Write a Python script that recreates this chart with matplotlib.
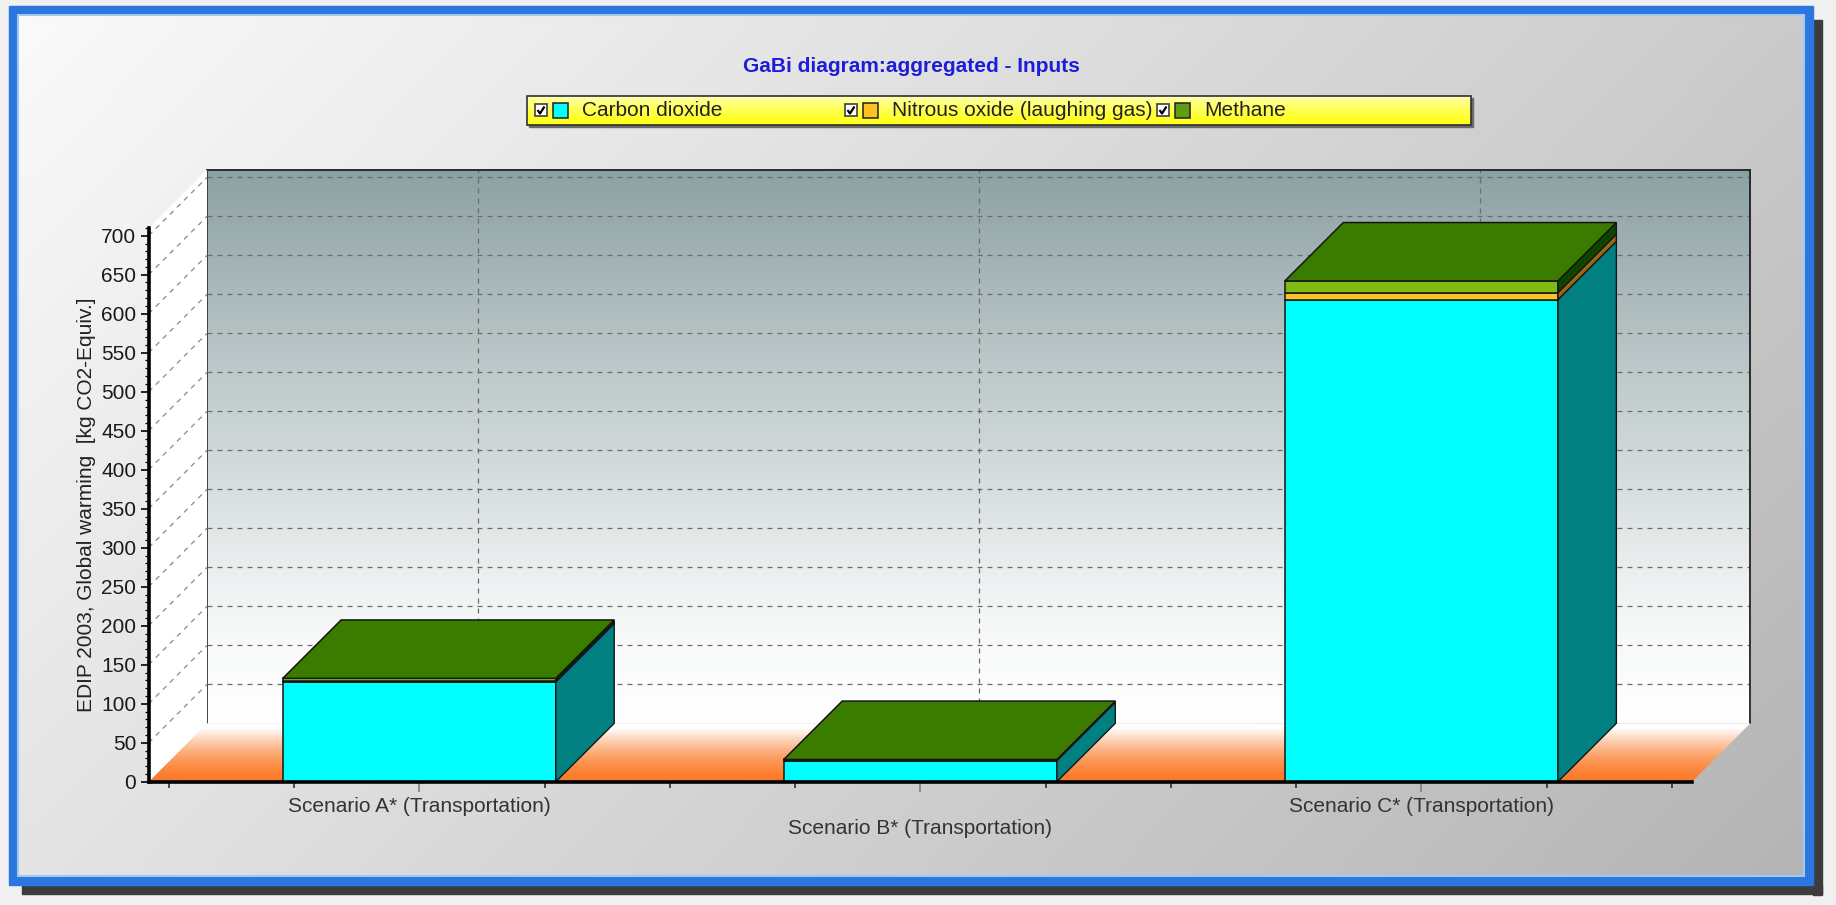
import numpy as np
import matplotlib.pyplot as plt
from matplotlib.patches import Polygon, Rectangle
from matplotlib.colors import to_rgb

plt.rcParams['font.family'] = ['Liberation Sans', 'DejaVu Sans']

# data
categories = ["Scenario A* (Transportation)", "Scenario B* (Transportation)",
              "Scenario C* (Transportation)"]
series = ["Carbon dioxide", "Nitrous oxide (laughing gas)", "Methane"]
co2 = [128, 27, 618]
n2o = [1.5, 0.5, 9]
ch4 = [3, 1, 15]
values = [co2, n2o, ch4]
yticks = list(range(0, 701, 50))

front_cols = ['#00ffff', '#f7c52a', '#80bb14']
side_cols = ['#008080', '#9a6a12', '#0d4500']
top_col = '#3b7b00'
legend_cols = ['#00ffff', '#ffc020', '#5f9e0f']

FW, FH = 1836, 905
fig = plt.figure(figsize=(FW / 100, FH / 100), dpi=100)
fig.patch.set_facecolor('#f0f0f0')


def vgrad(c0, c1, n=256, power=1.0):
    t = np.linspace(0, 1, n) ** power
    a, b = np.array(to_rgb(c0)), np.array(to_rgb(c1))
    return (a[None, :] * (1 - t[:, None]) + b[None, :] * t[:, None])[:, None, :]


# ---- background frame (pixel coords, y down) ----
bg = fig.add_axes([0, 0, 1, 1], zorder=0)
bg.axis('off')
bg.add_patch(Rectangle((1813, 20), 9, 875, color='#3c3c3c', zorder=1))
bg.add_patch(Rectangle((22, 885), 1800, 9, color='#3c3c3c', zorder=1))
bg.add_patch(Rectangle((9, 6), 1804, 879, color='#2b77df', zorder=2))
corners = np.array([[to_rgb('#fafafa'), to_rgb('#cbcbcb')],
                    [to_rgb('#e4e4e4'), to_rgb('#b5b5b5')]])
u = np.linspace(0, 1, 80)
v = np.linspace(0, 1, 40)
U, V = np.meshgrid(u, v)
panel = (corners[0, 0] * ((1 - U) * (1 - V))[..., None] + corners[0, 1] * (U * (1 - V))[..., None]
         + corners[1, 0] * ((1 - U) * V)[..., None] + corners[1, 1] * (U * V)[..., None])
bg.imshow(panel, extent=(18, 1804, 876, 15), aspect='auto', interpolation='bilinear', zorder=3)
bg.add_patch(Rectangle((18, 15), 1786, 861, fill=False, edgecolor='#a3c8f0', lw=1.5, zorder=4))

# title
bg.text(911, 67, "GaBi diagram:aggregated - Inputs", ha='center', va='center',
        fontsize=15, fontweight='bold', color='#1e1ed8', zorder=6)

# legend box
bg.add_patch(Rectangle((529, 98), 944, 29, color='#6a6a6a', zorder=5))
bg.imshow(vgrad('#ffffd0', '#ffff10', power=0.6), extent=(527, 1471, 125, 96),
          aspect='auto', zorder=6)
bg.add_patch(Rectangle((527, 96), 944, 29, fill=False, edgecolor='#303030', lw=1.2, zorder=7))
leg_x = [541, 851, 1163]
for lx, name, col in zip(leg_x, series, legend_cols):
    bg.add_patch(Rectangle((lx - 6, 104.5), 12, 12, facecolor='white',
                           edgecolor='#404040', lw=1.2, zorder=8))
    bg.plot([lx - 3.5, lx - 1, lx + 3.5], [110, 113.5, 106.5], color='black', lw=1.6,
            solid_capstyle='butt', zorder=9)
    bg.add_patch(Rectangle((lx + 12, 103), 15, 15, facecolor=col,
                           edgecolor='#202020', lw=1.1, zorder=8))
    bg.text(lx + 41, 111, name, ha='left', va='center', fontsize=15, color='#222222', zorder=9)

bg.set_xlim(0, FW)
bg.set_ylim(FH, 0)

# ---- 3D-ish plot geometry ----
L, R = 148.7 / FW, 1692 / FW
B, T = 1 - 781.7 / FH, 1 - 227.9 / FH
xlim = (-0.54, 2.54)
ylim = (0, 710)
depth = 58.4
ddx = depth / ((R - L) * FW) * (xlim[1] - xlim[0])
ddy = depth / ((T - B) * FH) * (ylim[1] - ylim[0])

# back wall
wall = fig.add_axes([L + depth / FW, B + depth / FH, R - L, T - B], zorder=1)
wall_grad = np.concatenate([vgrad('#8ca0a3', '#f6f8f8', n=210, power=0.95),
                            vgrad('#f6f8f8', '#ffffff', n=46)])
wall.imshow(wall_grad, extent=(xlim[0], xlim[1], ylim[0], ylim[1]), origin='upper', aspect='auto')
wall.set_xlim(xlim)
wall.set_ylim(ylim)
wall.set_yticks(yticks[1:])
wall.set_xticks(range(len(categories)))
wall.grid(True, color='#6c6c6c', linestyle=(0, (4, 4)), lw=0.9)
wall.tick_params(length=0, labelleft=False, labelbottom=False)
for s in ['top', 'left', 'right']:
    wall.spines[s].set_color('#202020')
    wall.spines[s].set_linewidth(1.3)
wall.spines['bottom'].set_visible(False)

# floor
floor = fig.add_axes([L, B, (R - L) + depth / FW, depth / FH], zorder=2)
floor.axis('off')
floor_poly = Polygon([(xlim[0], 0), (xlim[1], 0), (xlim[1] + ddx, ddy), (xlim[0] + ddx, ddy)],
                     closed=True, facecolor='none', edgecolor='none')
floor.add_patch(floor_poly)
t = np.linspace(0, 1, 256)
w = np.clip(t / 0.92, 0, 1) ** 1.6
orange = np.array(to_rgb('#fb7a28'))
fgrad = (orange[None, :] * (1 - w[:, None]) + w[:, None])[:, None, :]
im = floor.imshow(fgrad, extent=(xlim[0], xlim[1] + ddx, 0, ddy), origin='lower', aspect='auto')
im.set_clip_path(floor_poly)
floor.set_xlim(xlim[0], xlim[1] + ddx)
floor.set_ylim(0, ddy)

# front axes
ax = fig.add_axes([L, B, R - L, T - B], zorder=3)
ax.patch.set_alpha(0)

# left wall
ax.add_patch(Polygon([(xlim[0], 0), (xlim[0] + ddx, ddy), (xlim[0] + ddx, ylim[1] + ddy),
                      (xlim[0], ylim[1])], closed=True, facecolor='white', edgecolor='none',
                     clip_on=False, zorder=1))
for yv in yticks[1:]:
    ax.plot([xlim[0], xlim[0] + ddx], [yv, yv + ddy], color='#8a8a8a', lw=0.9,
            linestyle=(0, (4, 4)), clip_on=False, zorder=1.5)

# bars
x = np.arange(len(categories))
bw = 0.545
bottom = np.zeros(len(categories))
for vals, fc, sc in zip(values, front_cols, side_cols):
    vals = np.array(vals, dtype=float)
    ax.bar(x, vals, bw, bottom=bottom, color=fc, edgecolor='#151515', lw=1.1, zorder=3)
    for xi, b0, h in zip(x, bottom, vals):
        xr = xi + bw / 2
        ax.add_patch(Polygon([(xr, b0), (xr + ddx, b0 + ddy), (xr + ddx, b0 + h + ddy), (xr, b0 + h)],
                             closed=True, facecolor=sc, edgecolor='#151515', lw=1.0,
                             clip_on=False, zorder=3))
    bottom = bottom + vals
for xi, tot in zip(x, bottom):
    xl, xr = xi - bw / 2, xi + bw / 2
    ax.add_patch(Polygon([(xl, tot), (xr, tot), (xr + ddx, tot + ddy), (xl + ddx, tot + ddy)],
                         closed=True, facecolor=top_col, edgecolor='#151515', lw=1.1,
                         clip_on=False, zorder=3.5))

ax.set_xlim(xlim)
ax.set_ylim(ylim)
for s in ['top', 'right']:
    ax.spines[s].set_visible(False)
for s in ['left', 'bottom']:
    ax.spines[s].set_linewidth(2.6)
    ax.spines[s].set_color('black')
    ax.spines[s].set_zorder(5)

ax.set_yticks(yticks)
ax.set_yticks(range(0, 711, 10), minor=True)
ax.tick_params(axis='y', which='major', length=6, width=1.2, labelsize=15,
               labelcolor='#1a1a1a', pad=3)
ax.tick_params(axis='y', which='minor', length=3, width=0.9)
ax.set_xticks(x)
ax.set_xticklabels([c if i != 1 else "\n" + c for i, c in enumerate(categories)])
ax.set_xticks([m for m in np.arange(-0.5, 2.51, 0.25) if abs(m - round(m)) > 1e-6], minor=True)
ax.tick_params(axis='x', which='major', length=7, width=1.2, color='#808080',
               labelsize=15, labelcolor='#333333', pad=4)
ax.tick_params(axis='x', which='minor', length=4, width=1.1, color='#202020')

ax.set_ylabel("EDIP 2003, Global warming  [kg CO2-Equiv.]", fontsize=15, color='#222222')
ax.yaxis.set_label_coords(-0.034, 0.5)

fig.savefig("out.png", dpi=100, facecolor=fig.get_facecolor())
